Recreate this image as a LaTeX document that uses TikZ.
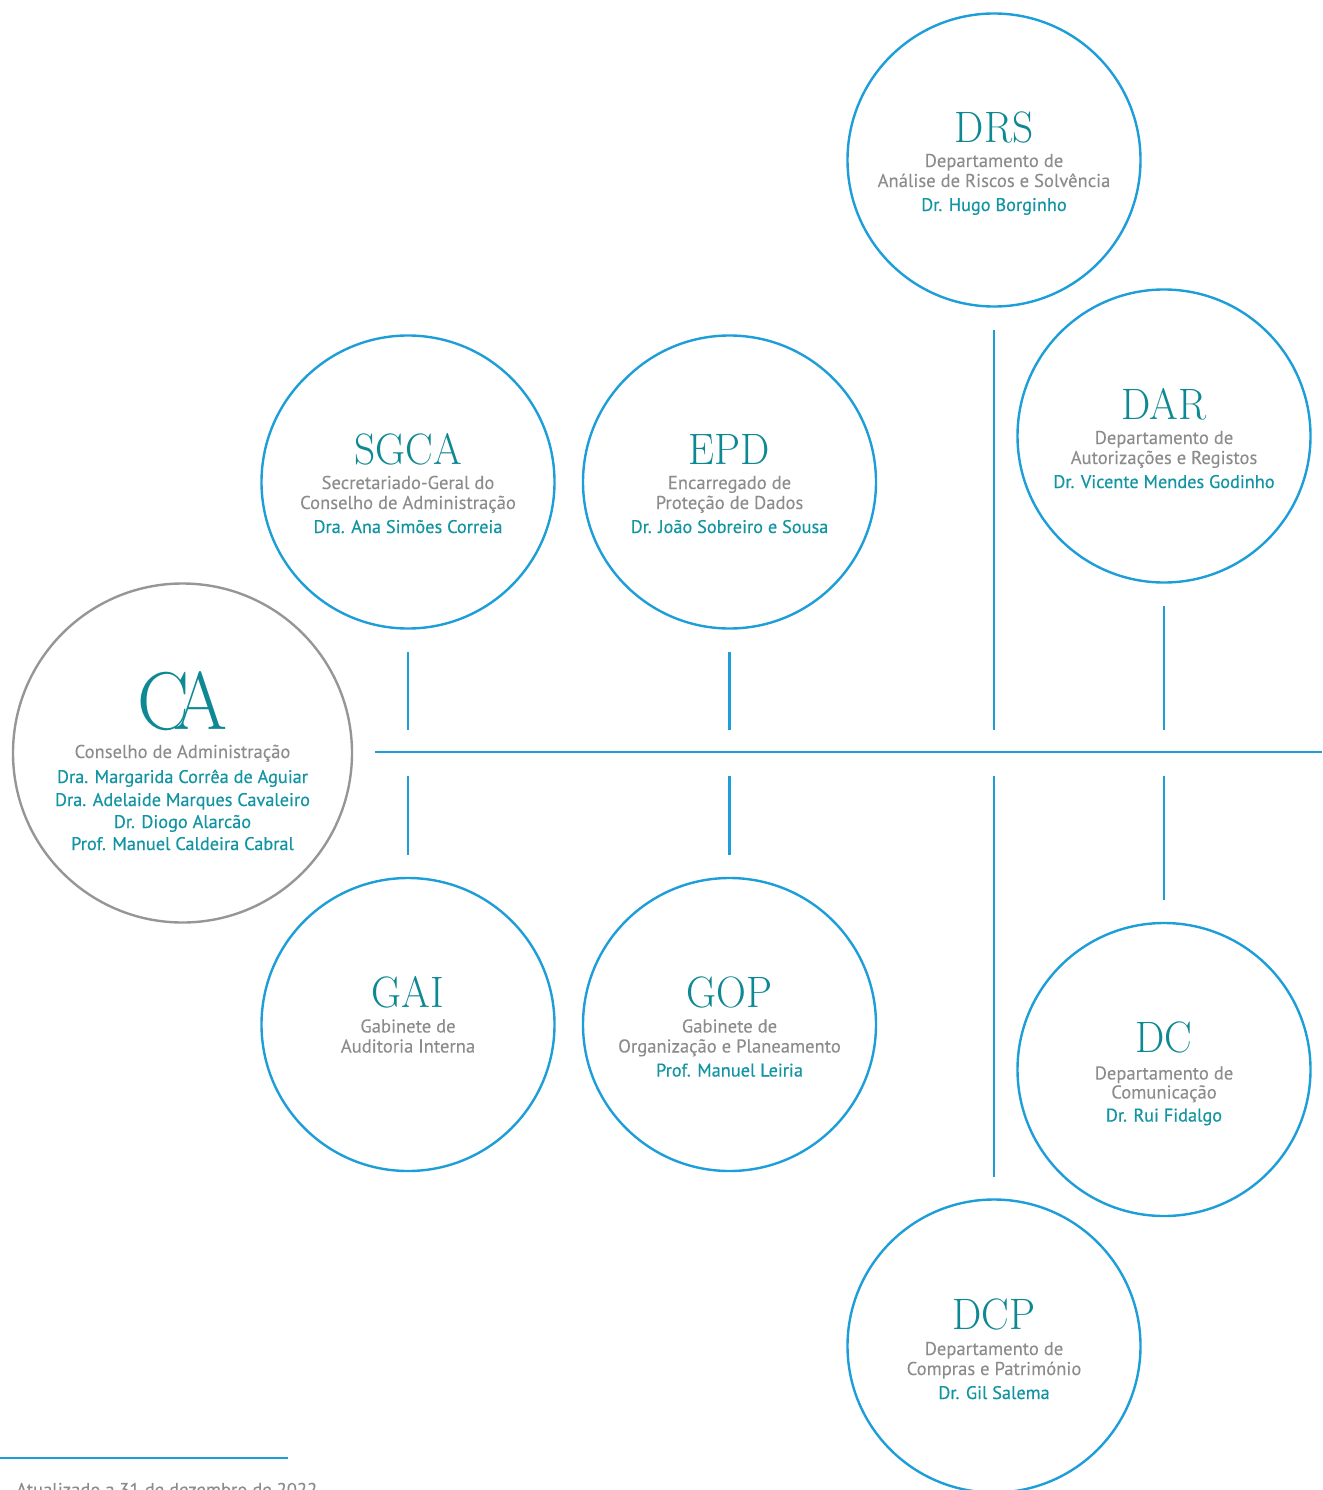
\documentclass[tikz,border=0pt]{standalone}
\usepackage{fontspec}
\setsansfont{PT Sans}
\newfontfamily\descfont[FakeBold=0.15]{PT Sans}
\newfontfamily\namefont[FakeBold=0.45]{PT Sans}
\usepackage{graphicx}
\usetikzlibrary{calc}
\definecolor{lineblue}{RGB}{29,158,217}
\definecolor{acrocol}{RGB}{14,136,146}
\definecolor{namecol}{RGB}{18,148,163}
\definecolor{desccol}{RGB}{140,140,140}
\definecolor{cagray}{RGB}{150,150,150}
\newcommand\acrtext[1]{\scalebox{0.94}[1]{\rmfamily\fontsize{44}{44}\selectfont #1}}
\tikzset{
  unitc/.style={circle, draw=lineblue, line width=2.4pt, minimum size=293pt, inner sep=0pt, outer sep=0pt},
  cac/.style={circle, draw=cagray, line width=2.4pt, minimum size=339pt, inner sep=0pt, outer sep=0pt},
  acro/.style={anchor=base, inner sep=0pt, text=acrocol},
  desc/.style={anchor=base, inner sep=0pt, text=desccol, font=\descfont\fontsize{18.6}{20}\selectfont},
  person/.style={anchor=base, inner sep=0pt, text=namecol, font=\namefont\fontsize{18.3}{20}\selectfont},
  bus/.style={draw=lineblue, line width=2.6pt},
  stub/.style={draw=lineblue, line width=2.6pt}
}
\begin{document}
\begin{tikzpicture}[x=1pt, y=-1pt]
\useasboundingbox (0,0) rectangle (1322,1490);

% circles
\node[unitc] (drs) at (994,160) {};
\node[unitc] (dar) at (1164,436) {};
\node[unitc] (sgca) at (408,482) {};
\node[unitc] (epd) at (729.5,482) {};
\node[cac] (ca) at (182.5,753) {};
\node[unitc] (gai) at (408,1024.5) {};
\node[unitc] (gop) at (729.5,1024.5) {};
\node[unitc] (dc) at (1164,1069.5) {};
\node[unitc] (dcp) at (994,1346) {};

% DRS
\node[acro] (drs-t) at ($(drs)+(0,-17)$) {\acrtext{DRS}};
\node[desc] (drs-d1) at ($(drs)+(0,7)$) {Departamento de};
\node[desc] (drs-d2) at ($(drs)+(0,27)$) {Análise de Riscos e Solvência};
\node[person] (drs-p) at ($(drs)+(0,51)$) {Dr. Hugo Borginho};

% DAR
\node[acro] (dar-t) at ($(dar)+(0,-17)$) {\acrtext{DAR}};
\node[desc] (dar-d1) at ($(dar)+(0,8)$) {Departamento de};
\node[desc] (dar-d2) at ($(dar)+(0,28)$) {Autorizações e Registos};
\node[person] (dar-p) at ($(dar)+(0,52)$) {Dr. Vicente Mendes Godinho};

% SGCA
\node[acro] (sgca-t) at ($(sgca)+(0,-18)$) {\acrtext{SGCA}};
\node[desc] (sgca-d1) at ($(sgca)+(0,7)$) {Secretariado-Geral do};
\node[desc] (sgca-d2) at ($(sgca)+(0,27)$) {Conselho de Administração};
\node[person] (sgca-p) at ($(sgca)+(0,51)$) {Dra. Ana Simões Correia};

% EPD
\node[acro] (epd-t) at ($(epd)+(0,-18)$) {\acrtext{EPD}};
\node[desc] (epd-d1) at ($(epd)+(0,7)$) {Encarregado de};
\node[desc] (epd-d2) at ($(epd)+(0,27)$) {Proteção de Dados};
\node[person] (epd-p) at ($(epd)+(0,51)$) {Dr. João Sobreiro e Sousa};

% CA
\node[acro, text=acrocol] (ca-t) at ($(ca)+(0,-24)$) {\scalebox{0.95}[1]{\rmfamily\fontsize{82}{82}\selectfont C\kern-16pt A}};
\node[desc] (ca-d1) at ($(ca)+(0,5)$) {Conselho de Administração};
\node[person] (ca-p1) at ($(ca)+(0,30)$) {Dra. Margarida Corrêa de Aguiar};
\node[person] (ca-p2) at ($(ca)+(0,53)$) {Dra. Adelaide Marques Cavaleiro};
\node[person] (ca-p3) at ($(ca)+(0,75)$) {Dr. Diogo Alarcão};
\node[person] (ca-p4) at ($(ca)+(0,97)$) {Prof. Manuel Caldeira Cabral};

% GAI
\node[acro] (gai-t) at ($(gai)+(0,-17)$) {\acrtext{GAI}};
\node[desc] (gai-d1) at ($(gai)+(0,8)$) {Gabinete de};
\node[desc] (gai-d2) at ($(gai)+(0,28)$) {Auditoria Interna};

% GOP
\node[acro] (gop-t) at ($(gop)+(0,-17)$) {\acrtext{GOP}};
\node[desc] (gop-d1) at ($(gop)+(0,8)$) {Gabinete de};
\node[desc] (gop-d2) at ($(gop)+(0,28)$) {Organização e Planeamento};
\node[person] (gop-p) at ($(gop)+(0,52)$) {Prof. Manuel Leiria};

% DC
\node[acro] (dc-t) at ($(dc)+(0,-17)$) {\acrtext{DC}};
\node[desc] (dc-d1) at ($(dc)+(0,10)$) {Departamento de};
\node[desc] (dc-d2) at ($(dc)+(0,29)$) {Comunicação};
\node[person] (dc-p) at ($(dc)+(0,52)$) {Dr. Rui Fidalgo};

% DCP
\node[acro] (dcp-t) at ($(dcp)+(0,-17)$) {\acrtext{DCP}};
\node[desc] (dcp-d1) at ($(dcp)+(0,9)$) {Departamento de};
\node[desc] (dcp-d2) at ($(dcp)+(0,29)$) {Compras e Património};
\node[person] (dcp-p) at ($(dcp)+(0,53)$) {Dr. Gil Salema};

% bus
\coordinate (busL) at (375,752);
\coordinate (busR) at (1322,752);
\draw[bus] (busL) -- (busR);

% upper stubs
\draw[stub] ($(sgca.south)+(0,23)$) -- ($(sgca.south |- busL)+(0,-22)$);
\draw[stub] ($(epd.south)+(0,23)$) -- ($(epd.south |- busL)+(0,-22)$);
\draw[stub] ($(drs.south)+(0,23)$) -- ($(drs.south |- busL)+(0,-22)$);
\draw[stub] ($(dar.south)+(0,23)$) -- ($(dar.south |- busL)+(0,-22)$);
% lower stubs
\draw[stub] ($(gai.north |- busL)+(0,24)$) -- ($(gai.north)+(0,-23)$);
\draw[stub] ($(gop.north |- busL)+(0,24)$) -- ($(gop.north)+(0,-23)$);
\draw[stub] ($(dcp.north |- busL)+(0,24)$) -- ($(dcp.north)+(0,-23)$);
\draw[stub] ($(dc.north |- busL)+(0,24)$) -- ($(dc.north)+(0,-23)$);

% footer (cut off at the page edge, as in the reference)
\coordinate (footL) at (0,1458);
\coordinate (footR) at (288,1458);
\draw[draw=lineblue, line width=1.6pt] (footL) -- (footR);
\node[desc, anchor=base west] (foot) at (16,1496) {Atualizado a 31 de dezembro de 2022};
\end{tikzpicture}
\end{document}
